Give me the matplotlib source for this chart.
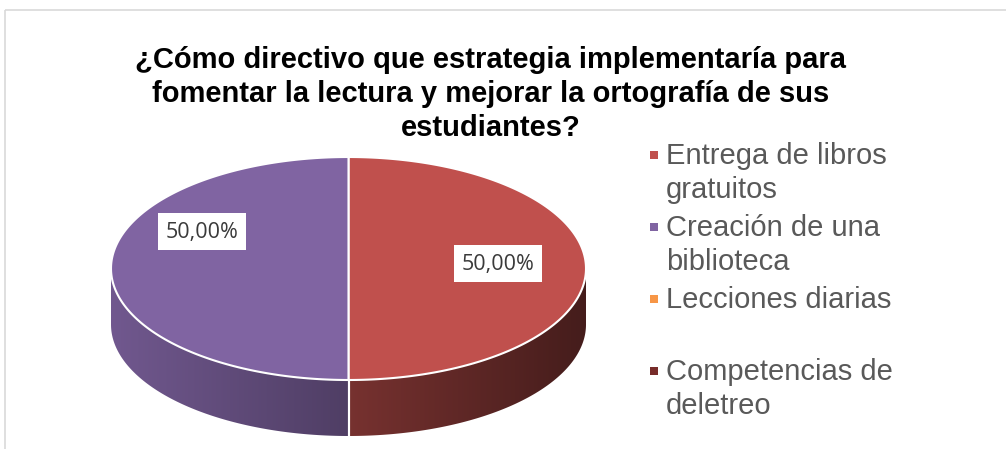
import textwrap

import matplotlib.pyplot as plt
import numpy as np
from matplotlib.colors import to_rgb
from matplotlib.patches import Polygon, Rectangle

title = (
    "¿Cómo directivo que estrategia implementaría para\n"
    "fomentar la lectura y mejorar la ortografía de sus\n"
    "estudiantes?"
)
categories = [
    "Entrega de libros gratuitos",
    "Creación de una biblioteca",
    "Lecciones diarias",
    "Competencias de deletreo",
]
shares = [50.0, 50.0, 0.0, 0.0]
colors = ["#C0504D", "#8064A2", "#F79646", "#772C2A"]

fig = plt.figure(figsize=(10.06, 4.49), dpi=100)
ax = fig.add_axes([0, 0, 1, 1])

# pie geometry in pixel units (y grows downwards)
cx, cy, rx, ry, depth = 348.5, 268.5, 237.5, 111.5, 56


def rim(a0, a1, n=200):
    # angles clockwise from 12 o'clock, like Excel
    t = np.radians(np.linspace(a0, a1, n))
    return cx + rx * np.sin(t), cy - ry * np.cos(t)


total = sum(shares)
slices = []
start = 0.0
for share, col in zip(shares, colors):
    span = 360 * share / total
    slices.append((start, start + span, col, share))
    start += span

# side walls with a left-to-right shading
shade = np.linspace(0.88, 0.36, 256)
for a0, a1, col, share in slices:
    lo, hi = max(a0, 90), min(a1, 270)
    if hi <= lo:
        continue
    x, y = rim(lo, hi)
    pts = np.column_stack([np.r_[x, x[::-1]], np.r_[y, y[::-1] + depth]])
    poly = Polygon(pts, closed=True, facecolor="none", edgecolor="none")
    ax.add_patch(poly)
    img = np.clip(np.array(to_rgb(col))[None, None, :] * shade[None, :, None], 0, 1)
    im = ax.imshow(img, extent=(cx - rx, cx + rx, cy + ry + depth, cy),
                   aspect="auto", interpolation="bilinear", zorder=1)
    im.set_clip_path(poly)
    for a in (a0, a1):
        if 90 < a < 270:
            bx, by = rim(a, a, 1)
            ax.plot([bx[0], bx[0]], [by[0], by[0] + depth], color="white", lw=1.5, zorder=2)

# top faces
for a0, a1, col, share in slices:
    if a1 <= a0:
        continue
    x, y = rim(a0, a1)
    pts = np.column_stack([np.r_[cx, x], np.r_[cy, y]])
    ax.add_patch(Polygon(pts, closed=True, facecolor=col, edgecolor="white",
                         lw=1.5, joinstyle="round", zorder=3))

# data labels
label_tweak = [(-4, 0.633), (28, 0.70)]
k = 0
for a0, a1, col, share in slices:
    if share <= 0:
        continue
    dang, r = label_tweak[k]
    k += 1
    mid = np.radians((a0 + a1) / 2 + dang)
    lx, ly = cx + r * rx * np.sin(mid), cy - r * ry * np.cos(mid)
    ax.add_patch(Rectangle((lx - 44, ly - 18.5), 88, 37, facecolor="white",
                           edgecolor="none", zorder=4))
    ax.text(lx, ly + 1, f"{share:.2f}%".replace(".", ","), ha="center", va="center",
            fontsize=15.5, family="Open Sans", color="#3a3a3a", zorder=5)

# title
ax.text(491, 46, title, ha="center", va="top", fontsize=21, fontweight="bold",
        family="Liberation Sans", color="black", linespacing=1.27)

# legend
for i, (cat, col) in enumerate(zip(categories, colors)):
    yc = 155 + i * 72
    ax.add_patch(Rectangle((650, yc - 4), 8, 8, facecolor=col, edgecolor="none"))
    ax.text(666, yc - 12.5, textwrap.fill(cat, 17), ha="left", va="top", fontsize=21,
            family="Liberation Sans", color="#595959", linespacing=1.24)

# chart area border
ax.add_patch(Rectangle((5, 10), 1100, 500, fill=False, edgecolor="#d9d9d9", lw=1.2))

ax.set_xlim(0, 1006)
ax.set_ylim(449, 0)
ax.axis("off")

fig.savefig("out.png", dpi=100)
